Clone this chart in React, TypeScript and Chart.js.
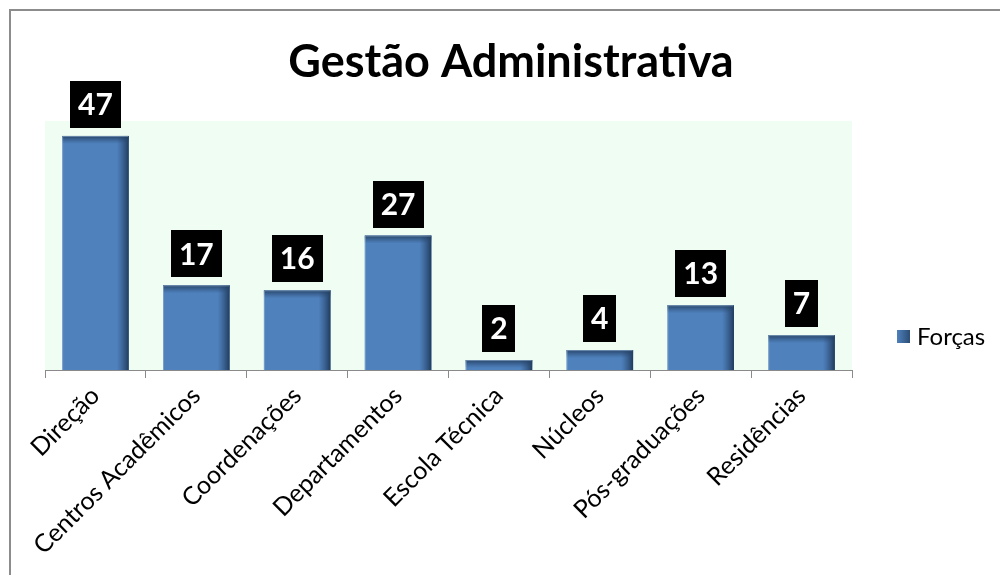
import React, { useEffect, useRef } from "react";
import { Chart, registerables } from "chart.js";

Chart.register(...registerables);

const title = "Gestão Administrativa";
const categories = [
  "Direção",
  "Centros Acadêmicos",
  "Coordenações",
  "Departamentos",
  "Escola Técnica",
  "Núcleos",
  "Pós-graduações",
  "Residências",
];
const seriesName = "Forças";
const values = [47, 17, 16, 27, 2, 4, 13, 7];

const FONT = "Lato, Carlito, Calibri, 'Open Sans', sans-serif";
const BAR = "#4F81BD";
const BAR_DARK = "#2C4D75";

const framePlugin = {
  id: "frame",
  beforeDraw(chart: any) {
    const { ctx, chartArea } = chart;
    ctx.save();
    ctx.fillStyle = "#ffffff";
    ctx.fillRect(0, 0, chart.width, chart.height);
    ctx.strokeStyle = "#8c8c8c";
    ctx.lineWidth = 2;
    ctx.beginPath();
    ctx.moveTo(10, chart.height + 5);
    ctx.lineTo(10, 10);
    ctx.lineTo(chart.width + 5, 10);
    ctx.stroke();
    ctx.fillStyle = "#EFFDF2";
    ctx.fillRect(chartArea.left, chartArea.top, chartArea.right - chartArea.left, chartArea.bottom - chartArea.top);
    ctx.restore();
  },
};

const titlePlugin = {
  id: "customTitle",
  afterDraw(chart: any) {
    const { ctx } = chart;
    ctx.save();
    ctx.fillStyle = "#000000";
    ctx.font = `bold 45px ${FONT}`;
    ctx.textAlign = "center";
    ctx.textBaseline = "alphabetic";
    ctx.fillText(title, 511, 77);
    ctx.restore();
  },
};

const shadePlugin = {
  id: "shade",
  afterDatasetsDraw(chart: any) {
    const { ctx } = chart;
    const meta = chart.getDatasetMeta(0);
    ctx.save();
    meta.data.forEach((el: any) => {
      const left = el.x - el.width / 2;
      const right = el.x + el.width / 2;
      const top = el.y;
      const bottom = el.base;
      const h = bottom - top;
      const gr = ctx.createLinearGradient(right - 12, 0, right, 0);
      gr.addColorStop(0, "rgba(44,77,117,0)");
      gr.addColorStop(1, "rgba(30,55,88,0.95)");
      ctx.fillStyle = gr;
      ctx.fillRect(right - 12, top, 12, h);
      const th = Math.min(8, h);
      const gt = ctx.createLinearGradient(0, top, 0, top + th);
      gt.addColorStop(0, "rgba(35,62,96,0.9)");
      gt.addColorStop(1, "rgba(44,77,117,0)");
      ctx.fillStyle = gt;
      ctx.fillRect(left, top, right - left, th);
      ctx.strokeStyle = "rgba(150,180,210,0.6)";
      ctx.lineWidth = 1;
      ctx.beginPath();
      ctx.moveTo(left + 0.5, bottom);
      ctx.lineTo(left + 0.5, top + 0.5);
      ctx.lineTo(right - 0.5, top + 0.5);
      ctx.stroke();
    });
    ctx.restore();
  },
};

const labelPlugin = {
  id: "boxLabels",
  afterDatasetsDraw(chart: any) {
    const { ctx } = chart;
    const meta = chart.getDatasetMeta(0);
    const data = chart.data.datasets[0].data;
    ctx.save();
    ctx.font = `bold 30px ${FONT}`;
    ctx.textAlign = "center";
    ctx.textBaseline = "middle";
    meta.data.forEach((el: any, i: number) => {
      const txt = String(data[i]);
      const w = ctx.measureText(txt).width + 16;
      const hgt = 47;
      const bottom = el.y - 8;
      ctx.fillStyle = "#000000";
      ctx.fillRect(Math.round(el.x - w / 2), Math.round(bottom - hgt), Math.round(w), hgt);
      ctx.fillStyle = "#ffffff";
      ctx.fillText(txt, el.x, bottom - hgt / 2 + 1);
    });
    ctx.restore();
  },
};

const legendPlugin = {
  id: "customLegend",
  afterDraw(chart: any) {
    const { ctx } = chart;
    const ds = chart.data.datasets[0];
    ctx.save();
    const y = 337;
    const g = ctx.createLinearGradient(897, 0, 910, 0);
    g.addColorStop(0, BAR);
    g.addColorStop(1, BAR_DARK);
    ctx.fillStyle = g;
    ctx.fillRect(897, y - 7, 13, 13);
    ctx.fillStyle = "#000000";
    ctx.font = `24px ${FONT}`;
    ctx.textAlign = "left";
    ctx.textBaseline = "middle";
    ctx.fillText(ds.label, 917, y);
    ctx.restore();
  },
};

export default function App() {
  const ref = useRef<HTMLCanvasElement>(null);
  useEffect(() => {
    document.body.style.margin = "0";
    const chart = new Chart(ref.current!, {
      type: "bar",
      data: {
        labels: categories,
        datasets: [
          {
            label: seriesName,
            data: values,
            backgroundColor: BAR,
            borderWidth: 0,
            categoryPercentage: 1,
            barPercentage: 0.66,
          },
        ],
      },
      options: {
        animation: false,
        responsive: false,
        maintainAspectRatio: false,
        layout: { padding: { left: 45, right: 148, top: 121, bottom: 0 } },
        plugins: {
          legend: { display: false },
          tooltip: { enabled: false },
          title: { display: false },
        },
        scales: {
          x: {
            offset: true,
            grid: {
              offset: true,
              drawOnChartArea: false,
              drawTicks: true,
              tickLength: 8,
              color: "#8a8a8a",
            },
            border: { display: true, color: "#8a8a8a", width: 1 },
            ticks: {
              minRotation: 45,
              maxRotation: 45,
              autoSkip: false,
              padding: 3,
              color: "#000000",
              font: { family: FONT, size: 25 },
            },
            afterFit(scale: any) {
              scale.height = 205;
              scale.paddingLeft = 0;
              scale.paddingRight = 0;
            },
          },
          y: {
            display: false,
            min: 0,
            max: 50,
          },
        },
      },
      plugins: [framePlugin, shadePlugin, labelPlugin, legendPlugin, titlePlugin],
    } as any);
    return () => chart.destroy();
  }, []);
  return (
    <div style={{ position: "absolute", left: 0, top: 0, width: 1000, height: 575 }}>
      <canvas ref={ref} width={1000} height={575} style={{ width: 1000, height: 575, display: "block" }} />
    </div>
  );
}
